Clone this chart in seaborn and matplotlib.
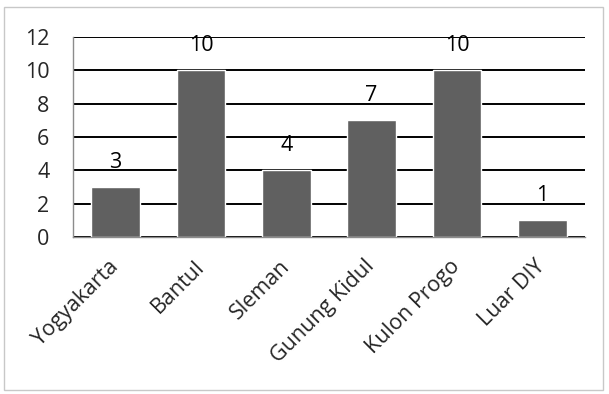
import matplotlib
matplotlib.use("Agg")
import matplotlib.pyplot as plt
import seaborn as sns
import pandas as pd
from matplotlib.patches import Rectangle

categories = ["Yogyakarta", "Bantul", "Sleman", "Gunung Kidul", "Kulon Progo", "Luar DIY"]
values = [3, 10, 4, 7, 10, 1]
yticks = [0, 2, 4, 6, 8, 10, 12]

sns.set_theme(style="white")
plt.rcParams['font.family'] = ['Open Sans', 'DejaVu Sans']

df = pd.DataFrame({"cat": categories, "val": values})

FS = 15.5

fig = plt.figure(figsize=(6.09, 3.94), dpi=100)
ax = fig.add_axes([73/609, 1 - 237/394, (585 - 73)/609, (237 - 37)/394])

sns.barplot(data=df, x="cat", y="val", color="#606060", width=0.57, ax=ax, saturation=1)

ax.set_ylim(0, 12)
ax.set_xlim(-0.5, len(categories) - 0.5)
ax.set_yticks(yticks)
ax.set_yticklabels([str(t) for t in yticks], fontsize=FS)
ax.set_xlabel("")
ax.set_ylabel("")
ax.set_axisbelow(True)
ax.yaxis.grid(True, color="black", linewidth=1.4)
ax.xaxis.grid(False)

for s in ["top", "right"]:
    ax.spines[s].set_visible(False)
for s in ["left", "bottom"]:
    ax.spines[s].set_color("#8c8c8c")
    ax.spines[s].set_linewidth(1)

ax.set_xticks([i - 0.5 for i in range(len(categories) + 1)], minor=True)
ax.tick_params(axis="x", which="minor", length=6, color="#8c8c8c", width=1, direction="out")
ax.tick_params(axis="x", which="major", length=0, pad=19)
ax.tick_params(axis="y", which="major", length=6, color="#8c8c8c", width=1, direction="out", pad=11)
ax.set_xticks(range(len(categories)))
ax.set_xticklabels(categories, rotation=45, ha="right", va="center",
                   rotation_mode="anchor", fontsize=FS)

for i, v in enumerate(values):
    ax.annotate(str(v), (i, v), xytext=(0, 10), textcoords="offset points",
                ha="center", va="bottom", fontsize=FS, color="black")

fig.patches.append(Rectangle((4/609, 1 - 390/394), (603 - 4)/609, (390 - 7)/394,
                             transform=fig.transFigure, fill=False,
                             edgecolor="#c8c8c8", linewidth=1))

fig.savefig("out.png", dpi=100)
